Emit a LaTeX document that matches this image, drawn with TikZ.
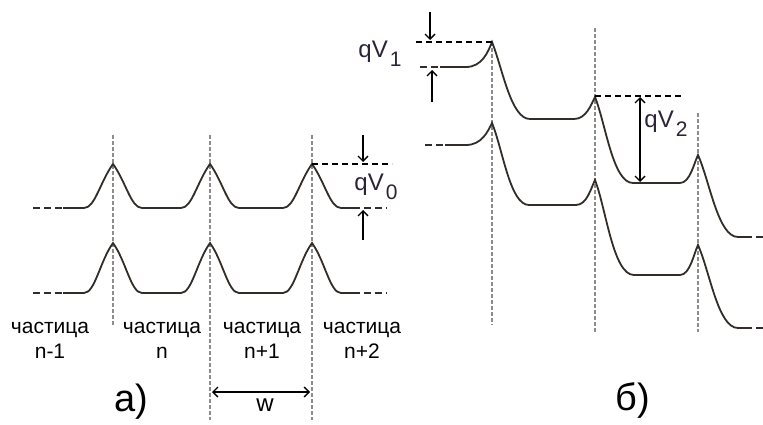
\documentclass[tikz,border=0pt]{standalone}
\usepackage{fontspec}
\setmainfont{Liberation Sans}
\usetikzlibrary{arrows.meta}
\definecolor{curvecol}{RGB}{50,45,40}
\definecolor{guidecol}{RGB}{140,140,140}
\definecolor{lblcol}{RGB}{45,35,55}
\tikzset{
  level/.style={curvecol, line width=1.8pt},
  levelext/.style={curvecol, line width=1.8pt, dash pattern=on 7pt off 4pt},
  guide/.style={guidecol, line width=1.6pt, dash pattern=on 4pt off 2pt},
  refline/.style={black, line width=1.4pt, dash pattern=on 6pt off 4pt},
  meas/.style={black, line width=1.4pt, -{Straight Barb[length=5pt,width=10pt]}},
  twoway/.style={black, line width=1.4pt, {Straight Barb[length=5pt,width=10pt]}-{Straight Barb[length=5pt,width=10pt]}},
  partlbl/.style={align=center, font=\fontsize{21}{25}\selectfont},
  qlbl/.style={lblcol, font=\fontsize{24}{26}\selectfont},
  panlbl/.style={font=\fontsize{38}{40}\selectfont}
}
\newcommand{\lowsub}[1]{\kern2pt\raisebox{-9pt}{\fontsize{21}{22}\selectfont#1}}
\begin{document}
\begin{tikzpicture}[x=1pt,y=-1pt]
\useasboundingbox (0,0) rectangle (763,425);

\draw[guide] (113,135) -- (113,325);
\draw[guide] (210,135) -- (210,420);
\draw[guide] (312,135) -- (312,420);

\foreach \yb/\yp in {208/164, 293/243} {
  \draw[levelext] (33,\yb) -- (63,\yb);
  \draw[level] (63,\yb) -- (84,\yb) .. controls (95,\yb) and (100,\yp+18) .. (113,\yp)
    .. controls (126,\yp+18) and (131,\yb) .. (142,\yb)
    -- (181,\yb) .. controls (192,\yb) and (197,\yp+18) .. (210,\yp)
    .. controls (223,\yp+18) and (228,\yb) .. (239,\yb)
    -- (283,\yb) .. controls (294,\yb) and (299,\yp+18) .. (312,\yp)
    .. controls (325,\yp+18) and (330,\yb) .. (341,\yb) -- (353,\yb);
  \draw[levelext] (353,\yb) -- (387,\yb);
}

\coordinate (pa) at (312,164);
\coordinate (pa end) at (392,164);
\coordinate (q0 top) at (363,135);
\coordinate (q0 hi) at (363,162);
\coordinate (q0 bot) at (363,240);
\coordinate (q0 lo) at (363,210);
\draw[refline] (pa) -- (pa end);
\draw[meas] (q0 top) -- (q0 hi);
\draw[meas] (q0 bot) -- (q0 lo);
\node[qlbl] (qv0) at (376,187) {qV\lowsub{0}};

\node[partlbl] (part1) at (50,340) {частица\\n-1};
\node[partlbl] (part2) at (162,340) {частица\\n};
\node[partlbl] (part3) at (262,340) {частица\\n+1};
\node[partlbl] (part4) at (362,340) {частица\\n+2};

\coordinate (wl) at (212,392);
\coordinate (wr) at (310,392);
\draw[twoway] (wl) -- (wr);
\node[font=\fontsize{24}{26}\selectfont] (w) at (265,405) {w};
\node[panlbl] (pana) at (131,402) {а)};

\draw[guide] (492,42) -- (492,325);
\draw[guide] (595,28) -- (595,332);
\draw[guide] (698,113) -- (698,332);

\draw[levelext] (420,67) -- (440,67);
\draw[level] (440,67) -- (466,67) .. controls (482,67) and (488,52) .. (492,42)
  .. controls (503,70) and (511,119) .. (530,119)
  -- (574,119) .. controls (586,119) and (591,105) .. (595,97)
  .. controls (606,125) and (613,183) .. (633,183)
  -- (680,183) .. controls (690,183) and (694,163) .. (698,155)
  .. controls (710,182) and (718,237) .. (738,237) -- (745,237);
\draw[levelext] (745,237) -- (763,237);

\draw[levelext] (425,145) -- (445,145);
\draw[level] (445,145) -- (466,145) .. controls (482,145) and (488,131) .. (492,123)
  .. controls (503,150) and (510,205) .. (529,205)
  -- (576,205) .. controls (587,205) and (591,188) .. (595,180)
  .. controls (606,208) and (613,275) .. (634,275)
  -- (680,275) .. controls (690,275) and (694,253) .. (698,245)
  .. controls (710,272) and (718,328) .. (738,328) -- (745,328);
\draw[levelext] (745,328) -- (763,328);

\coordinate (pb) at (492,42);
\coordinate (pb end) at (413,42);
\coordinate (q1 top) at (430,12);
\coordinate (q1 hi) at (430,40);
\coordinate (q1 bot) at (432,102);
\coordinate (q1 lo) at (432,70);
\draw[refline] (pb) -- (pb end);
\draw[meas] (q1 top) -- (q1 hi);
\draw[meas] (q1 bot) -- (q1 lo);
\node[qlbl] (qv1) at (380,54) {qV\lowsub{1}};

\coordinate (pc) at (595,96);
\coordinate (pc end) at (684,96);
\coordinate (q2 hi) at (640,97);
\coordinate (q2 lo) at (640,182);
\draw[refline] (pc) -- (pc end);
\draw[twoway] (q2 hi) -- (q2 lo);
\node[qlbl] (qv2) at (666,124) {qV\lowsub{2}};

\node[panlbl] (panb) at (633,400) {б)};
\end{tikzpicture}
\end{document}
